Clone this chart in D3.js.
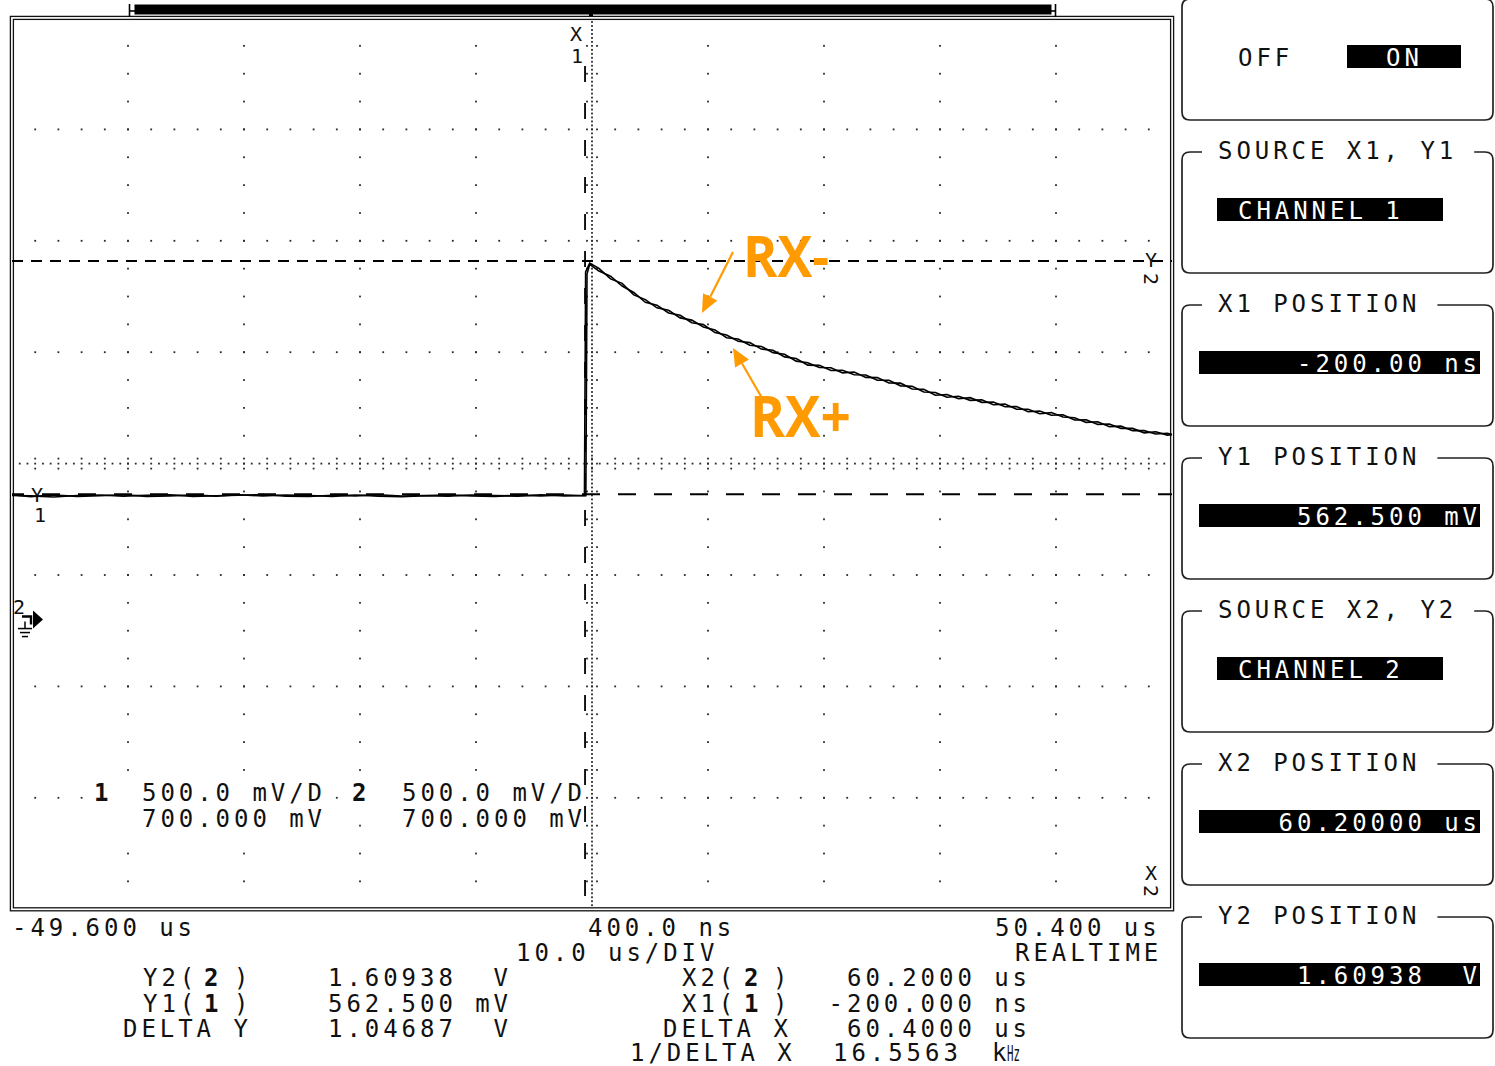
<!DOCTYPE html>
<html>
<head>
<meta charset="utf-8">
<script src="https://cdn.jsdelivr.net/npm/d3@7"></script>
<style>
  html, body { margin: 0; padding: 0; background: #fff; }
  svg { display: block; }
  .mono { font-family: "DejaVu Sans Mono", monospace; font-size: 24px; letter-spacing: 3.95px; fill: #111; white-space: pre; }
  .bold { font-weight: bold; }
  .inv { fill: #fff; }
  .mark { font-family: "DejaVu Sans Mono", monospace; font-size: 20px; fill: #111; }
  .note { font-family: "Open Sans", "Noto Sans", sans-serif; font-weight: 700; font-size: 58px; fill: #ff9a00; }
</style>
</head>
<body>
<svg id="scope" width="1495" height="1066"></svg>
<script>
// ---- acquisition: time base in microseconds ----
const timeUs = [
  -49.6, -48, -46, -44, -42, -40, -38, -36, -34, -32, -30, -28, -26, -24, -22, -20,
  -18, -16, -14, -12, -10, -8, -6, -4, -2, -0.6, -0.25,
  -0.15, 0.2, 1, 2, 3, 4, 5, 6, 7, 8, 9, 10, 11, 12, 13, 14, 15, 16, 17, 18, 19, 20,
  21, 22, 23, 24, 25, 26, 27, 28, 29, 30, 31, 32, 33, 34, 35, 36, 37, 38, 39, 40,
  41, 42, 43, 44, 45, 46, 47, 48, 49, 50, 50.4
];

// channel 1 (RX+) in volts
const rxPlus = [
  0.557, 0.555, 0.550, 0.557, 0.559, 0.554, 0.558, 0.560, 0.553, 0.556, 0.558, 0.561, 0.554, 0.552, 0.558, 0.555,
  0.560, 0.554, 0.557, 0.559, 0.555, 0.553, 0.558, 0.555, 0.559, 0.557, 0.557,
  1.560, 1.600,
  1.576, 1.529, 1.509, 1.457, 1.436, 1.399, 1.388, 1.354, 1.344, 1.313,
  1.300, 1.265, 1.259, 1.231, 1.226, 1.198, 1.191, 1.160, 1.153, 1.131,
  1.130, 1.107, 1.111, 1.087, 1.086, 1.062, 1.061, 1.035, 1.033, 1.007,
  1.010, 0.991, 0.996, 0.975, 0.976, 0.955, 0.956, 0.933, 0.936, 0.917,
  0.919, 0.896, 0.897, 0.876, 0.878, 0.858, 0.858, 0.838, 0.843, 0.828,
  0.830
];

// channel 2 (RX-) in volts
const rxMinus = [
  0.560, 0.552, 0.559, 0.553, 0.556, 0.560, 0.553, 0.555, 0.559, 0.554, 0.560, 0.555, 0.559, 0.557, 0.553, 0.559,
  0.554, 0.551, 0.556, 0.554, 0.559, 0.557, 0.554, 0.560, 0.555, 0.556, 0.556,
  1.552, 1.594,
  1.564, 1.541, 1.497, 1.468, 1.424, 1.411, 1.376, 1.366, 1.332, 1.324,
  1.288, 1.277, 1.249, 1.243, 1.214, 1.209, 1.179, 1.172, 1.142, 1.141,
  1.118, 1.119, 1.099, 1.098, 1.074, 1.074, 1.049, 1.047, 1.021, 1.019,
  0.998, 1.002, 0.984, 0.986, 0.964, 0.967, 0.944, 0.944, 0.924, 0.929,
  0.909, 0.906, 0.885, 0.888, 0.866, 0.868, 0.848, 0.848, 0.833, 0.836,
  0.831
];

// cursor settings
const cursorXUs = [-0.2, 60.2];      // X1, X2
const cursorYV  = [0.5625, 1.60938]; // Y1, Y2

// horizontal / vertical settings
const timeWindowUs = [-49.6, 50.4];
const voltsPerDiv = 0.5;
const offsetV = 0.7;

// screen text
const timeLabels = ["-49.600 us", "400.0 ns", "50.400 us"];
const timebaseLabel = "10.0 us/DIV";
const modeLabel = "REALTIME";
const channelScale = ["500.0 mV/D", "500.0 mV/D"];
const channelOffset = ["700.000 mV", "700.000 mV"];

// cursor readouts
const yReadLabels = ["Y2(", "Y1(", "DELTA Y"];
const yReadChannels = ["2", "1", ""];
const yReadValues = ["1.60938  V", "562.500 mV", "1.04687  V"];
const xReadLabels = ["X2(", "X1(", "DELTA X", "1/DELTA X"];
const xReadChannels = ["2", "1", "", ""];
const xReadValues = ["60.2000 us", "-200.000 ns", "60.4000 us", "16.5563"];
const freqUnit = ["k", "Hz"];

// softkey menu
const softkeyTitles = ["", "SOURCE X1, Y1", "X1 POSITION", "Y1 POSITION", "SOURCE X2, Y2", "X2 POSITION", "Y2 POSITION"];
const softkeyValues = ["ON", "CHANNEL 1", "-200.00 ns", "562.500 mV", "CHANNEL 2", "60.20000 us", "1.60938  V"];

// probe annotations
const noteLabels = ["RX-", "RX+"];

// ---------------------------------------------------------------
const svg = d3.select("#scope");
const scr = { x0: 12, x1: 1172, y0: 18, y1: 909.2 };
const x = d3.scaleLinear().domain(timeWindowUs).range([scr.x0, scr.x1]);
const y = d3.scaleLinear()
  .domain([offsetV - 4 * voltsPerDiv, offsetV + 4 * voltsPerDiv])
  .range([scr.y1, scr.y0]);

const tDiv = (timeWindowUs[1] - timeWindowUs[0]) / 10;
const tCenter = timeWindowUs[0] + 5 * tDiv;
const vBottom = offsetV - 4 * voltsPerDiv;

// ---- graticule ----
const dots = [];
for (let i = 1; i < 10; i++) {
  if (i === 5) continue;
  const t = timeWindowUs[0] + i * tDiv;
  for (let k = 1; k < 32; k++) dots.push([x(t), y(vBottom + k * voltsPerDiv / 4)]);
}
for (let j = 1; j < 8; j++) {
  if (j === 4) continue;
  const v = vBottom + j * voltsPerDiv;
  for (let k = 1; k < 50; k++) dots.push([x(timeWindowUs[0] + k * tDiv / 5), y(v)]);
}
// centre horizontal axis: fine dots + ticks at each minor division
for (let k = 1; k < 150; k++) {
  const px = x(timeWindowUs[0] + k * tDiv / 15);
  dots.push([px, y(offsetV)]);
  if (k % 3 === 0) { dots.push([px, y(offsetV) - 5]); dots.push([px, y(offsetV) + 5]); }
}
// centre vertical axis: fine dots + ticks at each quarter division
for (let k = 1; k < 224; k++) {
  const py = y(vBottom + k * voltsPerDiv / 28);
  dots.push([x(tCenter), py]);
  if (k % 7 === 0) { dots.push([x(tCenter) - 5, py]); dots.push([x(tCenter) + 5, py]); }
}
svg.append("g").selectAll("rect").data(dots).join("rect")
  .attr("x", d => d[0] - 0.9).attr("y", d => d[1] - 0.9)
  .attr("width", 1.8).attr("height", 1.8).attr("fill", "#2a2a2a");

// ---- screen frame (double line) ----
[-1.6, 1.4].forEach(o => {
  svg.append("rect")
    .attr("x", scr.x0 + o).attr("y", scr.y0 + o)
    .attr("width", scr.x1 - scr.x0 - 2 * o).attr("height", scr.y1 - scr.y0 - 2 * o)
    .attr("fill", "none").attr("stroke", "#111").attr("stroke-width", 1.3);
});

// ---- record-length bar above the screen ----
const bar = svg.append("g").attr("fill", "#000").attr("stroke", "#000");
bar.append("rect").attr("x", 135).attr("y", 5).attr("width", 916).attr("height", 9);
bar.append("line").attr("x1", 129.5).attr("x2", 129.5).attr("y1", 4).attr("y2", 17).attr("stroke-width", 1.6);
bar.append("line").attr("x1", 1055.5).attr("x2", 1055.5).attr("y1", 4).attr("y2", 17).attr("stroke-width", 1.6);
bar.append("line").attr("x1", 129.5).attr("x2", 136).attr("y1", 11).attr("y2", 11).attr("stroke-width", 1.6);
bar.append("line").attr("x1", 1050).attr("x2", 1055.5).attr("y1", 11).attr("y2", 11).attr("stroke-width", 1.6);
bar.append("rect").attr("x", x(tCenter) - 3).attr("y", 13).attr("width", 4).attr("height", 3).attr("stroke", "none");

// ---- channel scale block (text over blanked background) ----
const txt = svg.append("g");
txt.append("rect").attr("x", 92).attr("y", 778).attr("width", 238).attr("height", 54).attr("fill", "#fff");
txt.append("rect").attr("x", 348).attr("y", 778).attr("width", 238).attr("height", 28).attr("fill", "#fff");
txt.append("rect").attr("x", 396).attr("y", 806).attr("width", 190).attr("height", 26).attr("fill", "#fff");
txt.append("text").attr("class", "mono bold").attr("x", 94).attr("y", 801).text("1");
txt.append("text").attr("class", "mono").attr("x", 142).attr("y", 801).text(channelScale[0]);
txt.append("text").attr("class", "mono").attr("x", 142).attr("y", 827).text(channelOffset[0]);
txt.append("text").attr("class", "mono bold").attr("x", 352).attr("y", 801).text("2");
txt.append("text").attr("class", "mono").attr("x", 402).attr("y", 801).text(channelScale[1]);
txt.append("text").attr("class", "mono").attr("x", 402).attr("y", 827).text(channelOffset[1]);

// ---- cursors ----
const cur = svg.append("g").attr("stroke", "#000").attr("fill", "none");
cur.append("line")
  .attr("x1", x(cursorXUs[0])).attr("x2", x(cursorXUs[0]))
  .attr("y1", scr.y0 + 48).attr("y2", scr.y1)
  .attr("stroke-width", 1.8).attr("stroke-dasharray", "16 21");
cur.append("line")
  .attr("x1", scr.x0).attr("x2", scr.x1)
  .attr("y1", y(cursorYV[0])).attr("y2", y(cursorYV[0]))
  .attr("stroke-width", 1.8).attr("stroke-dasharray", "18 18").attr("stroke-dashoffset", 6);
cur.append("line")
  .attr("x1", scr.x0).attr("x2", scr.x1)
  .attr("y1", y(cursorYV[1])).attr("y2", y(cursorYV[1]))
  .attr("stroke-width", 1.8).attr("stroke-dasharray", "11 8");

// cursor tags
const mk = svg.append("g");
mk.append("text").attr("class", "mark").attr("x", x(cursorXUs[0]) - 9).attr("y", 41).attr("text-anchor", "middle").text("X");
mk.append("text").attr("class", "mark").attr("x", x(cursorXUs[0]) - 8).attr("y", 63).attr("text-anchor", "middle").text("1");
mk.append("text").attr("class", "mark").attr("x", scr.x1 - 21).attr("y", y(cursorYV[1]) + 6).attr("text-anchor", "middle").text("Y");
mk.append("text").attr("class", "mark").attr("text-anchor", "middle")
  .attr("transform", `translate(${scr.x1 - 21},${y(cursorYV[1]) + 18}) rotate(90)`).attr("dy", 7).text("2");
mk.append("text").attr("class", "mark").attr("x", scr.x1 - 21).attr("y", 880).attr("text-anchor", "middle").text("X");
mk.append("text").attr("class", "mark").attr("text-anchor", "middle")
  .attr("transform", `translate(${scr.x1 - 21},891) rotate(90)`).attr("dy", 7).text("2");
mk.append("text").attr("class", "mark").attr("x", 37).attr("y", y(cursorYV[0]) + 8).attr("text-anchor", "middle").text("Y");
mk.append("text").attr("class", "mark").attr("x", 40).attr("y", 522).attr("text-anchor", "middle").text("1");

// ground reference marker (0 V for both channels)
const g0 = y(0);
const gnd = svg.append("g").attr("stroke", "#000").attr("stroke-width", 1.5);
gnd.append("text").attr("class", "mark").attr("x", 13).attr("y", g0 - 6).attr("font-size", 17).attr("stroke", "none").text("2");
gnd.append("path").attr("d", `M22,${g0 - 3}H31V${g0 + 5}`).attr("fill", "none").attr("stroke-width", 2.4);
gnd.append("path").attr("d", `M33,${g0 - 9}L43,${g0}L33,${g0 + 9}Z`).attr("fill", "#000").attr("stroke", "none");
gnd.append("line").attr("x1", 25).attr("x2", 25).attr("y1", g0 + 2).attr("y2", g0 + 9);
gnd.append("line").attr("x1", 18).attr("x2", 32).attr("y1", g0 + 9).attr("y2", g0 + 9);
gnd.append("line").attr("x1", 20).attr("x2", 30).attr("y1", g0 + 13).attr("y2", g0 + 13);
gnd.append("line").attr("x1", 22).attr("x2", 28).attr("y1", g0 + 17).attr("y2", g0 + 17);

// ---- traces ----
const line = d3.line().x(d => x(d[0])).y(d => y(d[1]));
const traceG = svg.append("g").attr("fill", "none").attr("stroke", "#000").attr("stroke-linejoin", "miter");
traceG.append("path").attr("d", line(d3.zip(timeUs, rxPlus))).attr("stroke-width", 1.6);
traceG.append("path").attr("d", line(d3.zip(timeUs.map(t => t < 0 && t > -0.3 ? t + 0.12 : t), rxMinus))).attr("stroke-width", 1.6);

// ---- time / readout text below the screen ----
const rd = svg.append("g");
rd.append("text").attr("class", "mono").attr("x", 12).attr("y", 936).text(timeLabels[0]);
rd.append("text").attr("class", "mono").attr("x", 588).attr("y", 936).text(timeLabels[1]);
rd.append("text").attr("class", "mono").attr("x", 995).attr("y", 936).text(timeLabels[2]);
rd.append("text").attr("class", "mono").attr("x", 516).attr("y", 961).text(timebaseLabel);
rd.append("text").attr("class", "mono").attr("x", 1015).attr("y", 961).text(modeLabel);

const rowY = [986, 1011.5, 1037, 1061];
const yLabelX = [143, 143, 123];
yReadLabels.forEach((s, i) => {
  rd.append("text").attr("class", "mono").attr("x", yLabelX[i]).attr("y", rowY[i]).text(s);
  if (yReadChannels[i]) {
    rd.append("text").attr("class", "mono bold").attr("x", 204).attr("y", rowY[i]).text(yReadChannels[i]);
    rd.append("text").attr("class", "mono").attr("x", 234).attr("y", rowY[i]).text(")");
  }
  rd.append("text").attr("class", "mono").attr("x", 328).attr("y", rowY[i]).text(yReadValues[i]);
});
const xLabelX = [682, 682, 663, 630];
xReadLabels.forEach((s, i) => {
  rd.append("text").attr("class", "mono").attr("x", xLabelX[i]).attr("y", rowY[i]).text(s);
  if (xReadChannels[i]) {
    rd.append("text").attr("class", "mono bold").attr("x", 744).attr("y", rowY[i]).text(xReadChannels[i]);
    rd.append("text").attr("class", "mono").attr("x", 773).attr("y", rowY[i]).text(")");
  }
  const v = xReadValues[i];
  const vx = i === 3 ? 833 : 1031 - v.length * 18.4;
  rd.append("text").attr("class", "mono").attr("x", vx).attr("y", rowY[i]).text(v);
});
rd.append("text").attr("x", 992).attr("y", rowY[3])
  .attr("font-family", "\"DejaVu Sans Mono\", monospace").attr("font-size", 24).attr("fill", "#111")
  .text(freqUnit[0]);
// compact hertz symbol sharing one character cell
rd.append("text").attr("x", 1007).attr("y", rowY[3])
  .attr("font-family", "\"DejaVu Sans Mono\", monospace").attr("font-size", 22).attr("fill", "#111")
  .attr("textLength", 13).attr("lengthAdjust", "spacingAndGlyphs")
  .text(freqUnit[1]);

// ---- softkey menu ----
const menu = svg.append("g");
const keyTop = [-1, 152, 305, 458, 611, 764, 917];
const keyL = 1182, keyR = 1493, keyH = 121, rc = 8;
const barSpan = [[1347, 1461], [1217, 1443], [1199, 1480], [1199, 1480], [1217, 1443], [1199, 1480], [1199, 1480]];
softkeyTitles.forEach((title, i) => {
  const t = keyTop[i], b = t + keyH;
  let gapA = keyR - rc, gapB = keyR - rc;
  if (title) {
    const tt = menu.append("text").attr("class", "mono").attr("x", 1218).attr("y", t + 7).text(title);
    const len = tt.node().getComputedTextLength();
    gapA = 1202; gapB = 1218 + len + 17;
  }
  const d = `M${gapA},${t}H${keyL + rc}Q${keyL},${t} ${keyL},${t + rc}V${b - rc}Q${keyL},${b} ${keyL + rc},${b}` +
            `H${keyR - rc}Q${keyR},${b} ${keyR},${b - rc}V${t + rc}Q${keyR},${t} ${keyR - rc},${t}H${gapB}`;
  menu.append("path").attr("d", d).attr("fill", "none").attr("stroke", "#222").attr("stroke-width", 1.7);
  const [bx0, bx1] = barSpan[i];
  menu.append("rect").attr("x", bx0).attr("y", t + 46).attr("width", bx1 - bx0).attr("height", 23).attr("fill", "#000");
  const val = softkeyValues[i];
  if (i === 0) {
    menu.append("text").attr("class", "mono").attr("x", 1238).attr("y", t + 67).text("OFF");
    menu.append("text").attr("class", "mono inv").attr("x", 1386).attr("y", t + 67).text(val);
  } else if (i === 1 || i === 4) {
    menu.append("text").attr("class", "mono inv").attr("x", 1238).attr("y", t + 67).text(val);
  } else {
    menu.append("text").attr("class", "mono inv").attr("x", 1481).attr("y", t + 67).attr("text-anchor", "end").text(val);
  }
});

// ---- probe annotations ----
const orange = "#ff9a00";
const ann = svg.append("g");
function arrow(x0, y0, x1, y1) {
  const a = Math.atan2(y1 - y0, x1 - x0), L = 18, Wd = 8;
  const bx = x1 - L * Math.cos(a), by = y1 - L * Math.sin(a);
  ann.append("line").attr("x1", x0).attr("y1", y0).attr("x2", bx).attr("y2", by)
    .attr("stroke", orange).attr("stroke-width", 2.2);
  ann.append("path")
    .attr("d", `M${x1},${y1}L${bx + Wd * Math.sin(a)},${by - Wd * Math.cos(a)}L${bx - Wd * Math.sin(a)},${by + Wd * Math.cos(a)}Z`)
    .attr("fill", orange);
}
arrow(733, 252, 702, 313);
arrow(762, 398, 733, 348);
ann.append("text").attr("class", "note").attr("x", 743).attr("y", 277)
  .attr("textLength", 86).attr("lengthAdjust", "spacingAndGlyphs").text(noteLabels[0]);
ann.append("text").attr("class", "note").attr("x", 750).attr("y", 437)
  .attr("textLength", 101).attr("lengthAdjust", "spacingAndGlyphs").text(noteLabels[1]);
</script>
</body>
</html>
